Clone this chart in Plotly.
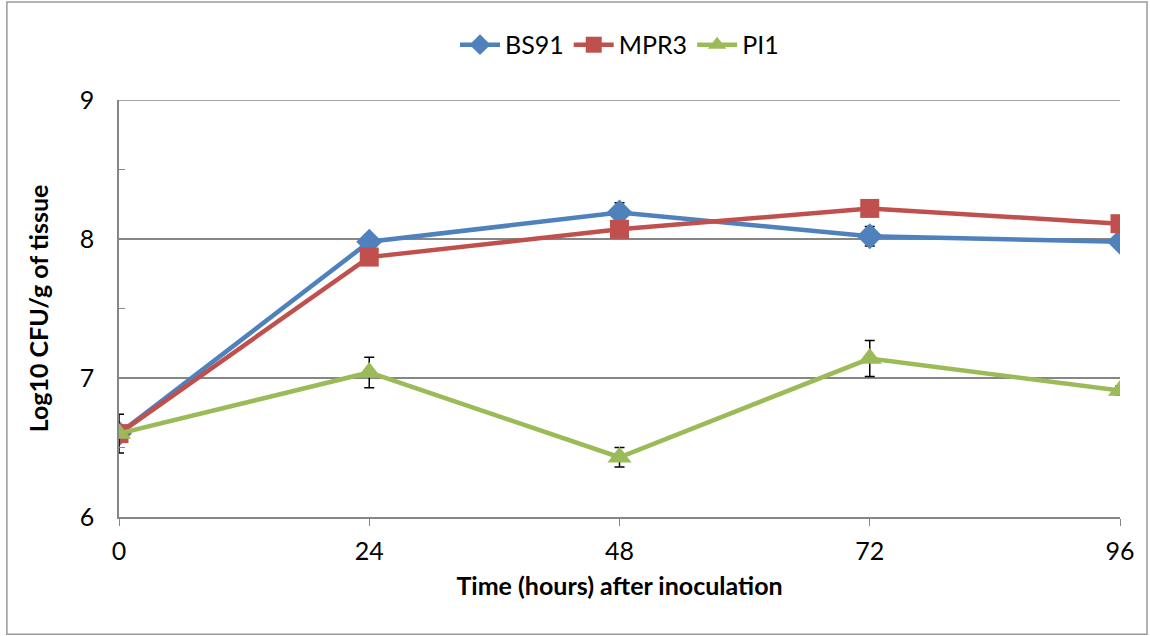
import plotly.graph_objects as go

hours = [0, 24, 48, 72, 96]

bs91 = [6.60, 7.98, 8.19, 8.02, 7.98]
bs91_err = [0.03, 0.03, 0.07, 0.07, 0.05]

mpr3 = [6.60, 7.87, 8.07, 8.22, 8.11]
mpr3_err = [0.03, 0.03, 0.03, 0.03, 0.03]

pi1 = [6.60, 7.04, 6.43, 7.14, 6.91]
pi1_err = [0.14, 0.11, 0.07, 0.13, 0.03]

y_ticks = [6, 7, 8, 9]

series = [
    ("BS91", bs91, bs91_err, "#4F81BD", "diamond", 20),
    ("MPR3", mpr3, mpr3_err, "#C0504D", "square", 19),
    ("PI1", pi1, pi1_err, "#9BBB59", "triangle-up", 21),
]

fig = go.Figure()
for name, vals, errs, color, symbol, size in series:
    fig.add_trace(go.Scatter(
        x=hours, y=vals, name=name, mode="lines+markers",
        line=dict(color=color, width=4.5),
        marker=dict(symbol=symbol, size=size, color=color),
        error_y=dict(type="data", array=errs, visible=True,
                     color="black", thickness=1.5, width=5),
    ))

font_family = "Lato, 'Open Sans', sans-serif"

# gridline at the top of the value range (not drawn by the axis at its edge)
top_grid = dict(type="line", xref="paper", yref="y", x0=0, x1=1,
                y0=max(y_ticks), y1=max(y_ticks),
                line=dict(color="#868686", width=1.5), layer="below")

fig.update_layout(
    width=1150, height=636,
    margin=dict(l=119, r=30, t=100, b=119, autoexpand=False),
    paper_bgcolor="white", plot_bgcolor="white",
    font=dict(family=font_family, size=25, color="black"),
    showlegend=True,
    legend=dict(orientation="h", x=0.5, xanchor="center", y=1.132,
                yanchor="middle", font=dict(size=25), itemwidth=40,
                bgcolor="rgba(0,0,0,0)", traceorder="normal"),
    xaxis=dict(
        range=[0, 96], tickvals=hours, ticktext=[str(h) for h in hours],
        showgrid=False, zeroline=False,
        showline=True, linecolor="#868686", linewidth=1.5,
        ticks="outside", ticklen=7, tickcolor="#868686",
        ticklabelstandoff=4,
        title=dict(text="<b>Time (hours) after inoculation</b>",
                   font=dict(size=25), standoff=14),
    ),
    yaxis=dict(
        range=[6, 9], tickvals=y_ticks,
        showgrid=True, gridcolor="#868686", gridwidth=1.5, zeroline=False,
        showline=True, linecolor="#868686", linewidth=1.5,
        ticks="inside", ticklen=6, tickcolor="#868686",
        minor=dict(dtick=0.5, ticks="inside", ticklen=6, tickcolor="#868686",
                   showgrid=False),
        title=dict(text="<b>Log10 CFU/g of tissue</b>",
                   font=dict(size=25), standoff=24),
        ticklabelstandoff=18,
    ),
    shapes=[
        top_grid,
        dict(type="rect", xref="paper", yref="paper",
             x0=-0.112, x1=1.027, y0=-0.281, y1=1.235,
             line=dict(color="#9a9a9a", width=1.5), layer="below"),
    ],
)

fig.write_html("out.html")
